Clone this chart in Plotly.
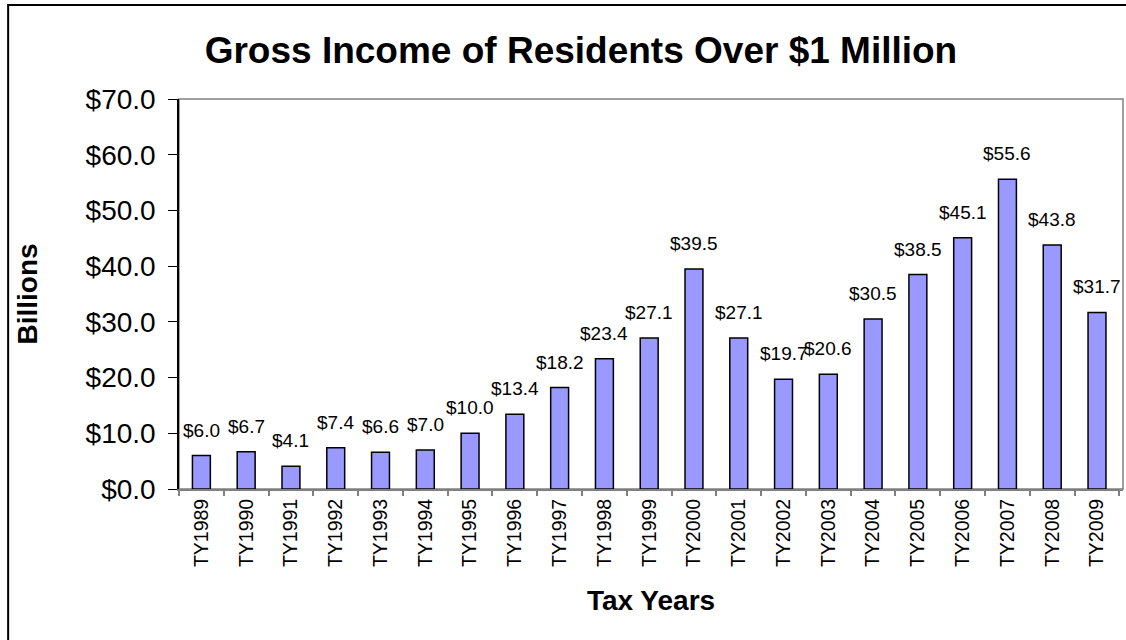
import plotly.graph_objects as go

categories = ["TY1989", "TY1990", "TY1991", "TY1992", "TY1993", "TY1994", "TY1995",
              "TY1996", "TY1997", "TY1998", "TY1999", "TY2000", "TY2001", "TY2002",
              "TY2003", "TY2004", "TY2005", "TY2006", "TY2007", "TY2008", "TY2009"]
values = [6.0, 6.7, 4.1, 7.4, 6.6, 7.0, 10.0, 13.4, 18.2, 23.4, 27.1, 39.5, 27.1, 19.7,
          20.6, 30.5, 38.5, 45.1, 55.6, 43.8, 31.7]
labels = ["$%.1f" % v for v in values]

FONT = "Liberation Sans, Arial, sans-serif"

fig = go.Figure()
fig.add_trace(go.Bar(
    x=categories, y=values,
    marker=dict(color="#9999FF", line=dict(color="#000000", width=1.5)),
    width=0.4,
    hoverinfo="skip",
))

for c, v, t in zip(categories, values, labels):
    fig.add_annotation(x=c, y=v, text=t, showarrow=False, xanchor="center",
                       yanchor="bottom", yshift=13,
                       font=dict(family=FONT, size=19, color="#000000"))

# plot-area border (top/right, gray)
fig.add_shape(type="rect", xref="paper", yref="paper", x0=0, x1=1, y0=0, y1=1,
              line=dict(color="#808080", width=1.5), layer="below")
# outer chart border (left/top visible)
fig.add_shape(type="rect", xref="paper", yref="paper", x0=-0.181, x1=1.06, y0=-0.45, y1=1.241,
              line=dict(color="#000000", width=2), layer="below")

fig.update_layout(
    width=1126, height=640,
    margin=dict(l=179, r=3, t=99, b=151),
    paper_bgcolor="white", plot_bgcolor="white",
    showlegend=False,
    font=dict(family=FONT, color="#000000"),
    title=dict(text="<b>Gross Income of Residents Over $1 Million</b>",
               font=dict(family=FONT, size=37, color="#000000"),
               xref="paper", x=0.4258, xanchor="center",
               yref="container", y=0.922, yanchor="middle"),
    xaxis=dict(
        type="category",
        tickangle=-90,
        tickfont=dict(family=FONT, size=19.5, color="#000000"),
        ticks="outside", ticklen=5, tickcolor="#808080", tickwidth=1.5,
        tickson="boundaries",
        showline=True, linecolor="#808080", linewidth=2,
        showgrid=False,
        title=dict(text="<b>Tax Years</b>", font=dict(family=FONT, size=28, color="#000000"),
                   standoff=24),
    ),
    yaxis=dict(
        range=[0, 70], dtick=10, tick0=0,
        tickprefix="$", tickformat=".1f",
        tickfont=dict(family=FONT, size=28, color="#000000"),
        ticks="outside", ticklen=9, tickcolor="#000000", tickwidth=1,
        ticklabelstandoff=7,
        showline=True, linecolor="#000000", linewidth=1.5,
        showgrid=False, zeroline=False,
        title=dict(text="<b>Billions</b>", font=dict(family=FONT, size=28, color="#000000"),
                   standoff=40),
    ),
)

fig.write_html("out.html")
